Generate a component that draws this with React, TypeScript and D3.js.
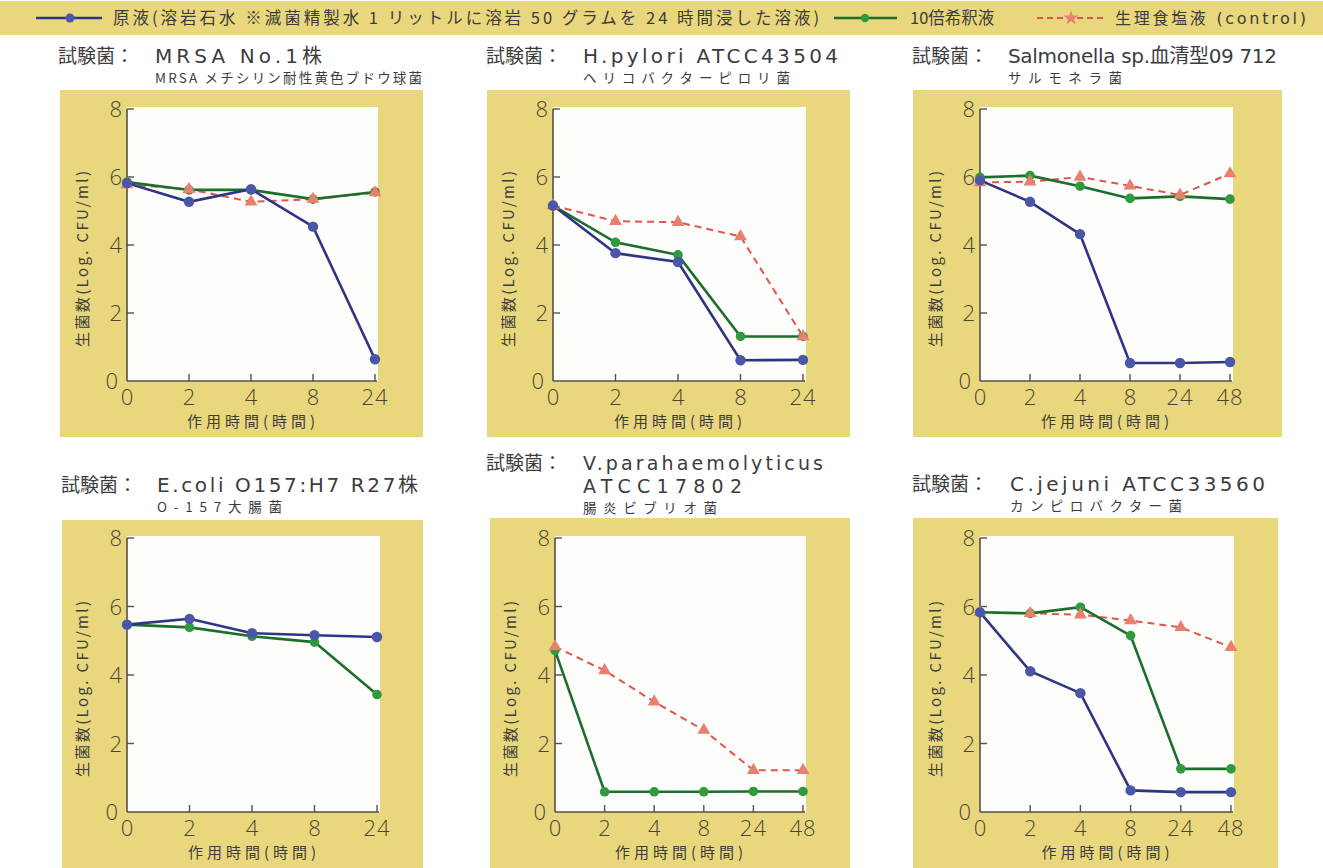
import React from "react";
import * as d3 from "d3";

// ---------- data ----------
const timesA = ["0", "2", "4", "8", "24"];
const timesB = ["0", "2", "4", "8", "24", "48"];

const legendStock = "原液(溶岩石水 ※滅菌精製水 1 リットルに溶岩 50 グラムを 24 時間浸した溶液)";
const legendDiluted = "10倍希釈液";
const legendControl = "生理食塩液 (control)";

const yTicks = [0, 2, 4, 6, 8];
const yLabel = "生菌数(Log. CFU/ml)";
const xLabel = "作用時間(時間)";
const titlePrefix = "試験菌：";

// MRSA
const mrsaStock = [5.82, 5.27, 5.64, 4.54, 0.64];
const mrsaDiluted = [5.85, 5.62, 5.62, 5.35, 5.56];
const mrsaControl = [5.78, 5.64, 5.27, 5.35, 5.54];
// H.pylori
const pyloriStock = [5.16, 3.76, 3.5, 0.61, 0.62];
const pyloriDiluted = [5.16, 4.08, 3.71, 1.31, 1.31];
const pyloriControl = [5.16, 4.7, 4.67, 4.25, 1.31];
// Salmonella
const salmStock = [5.9, 5.27, 4.32, 0.53, 0.53, 0.56];
const salmDiluted = [5.99, 6.04, 5.73, 5.37, 5.43, 5.35];
const salmControl = [5.84, 5.86, 6.0, 5.74, 5.47, 6.1];
// E.coli
const ecoliStock = [5.47, 5.64, 5.22, 5.16, 5.11];
const ecoliDiluted = [5.47, 5.39, 5.13, 4.96, 3.43];
// V.parahaemolyticus
const vibrioDiluted = [4.72, 0.59, 0.59, 0.59, 0.6, 0.6];
const vibrioControl = [4.83, 4.13, 3.22, 2.39, 1.22, 1.22];
// C.jejuni
const jejuniStock = [5.83, 4.11, 3.47, 0.63, 0.58, 0.58];
const jejuniDiluted = [5.83, 5.8, 5.98, 5.15, 1.26, 1.26];
const jejuniControl = [5.83, 5.8, 5.76, 5.59, 5.39, 4.81];

// ---------- styles ----------
const YELLOW = "#e9d77d";
const BLUE_LINE = "#2f3585";
const BLUE_DOT = "#4a56a8";
const GREEN_LINE = "#1c6e2c";
const GREEN_DOT = "#2f9a3e";
const RED_LINE = "#e2544c";
const RED_MARK = "#e88070";
const AXIS = "#555048";
const TICKTXT = "#4a4633";
const TEXT = "#3c3c3c";
const CJK = "'Noto Sans CJK JP', 'Noto Sans', sans-serif";
const LATIN = "'DejaVu Sans', 'Noto Sans CJK JP', sans-serif";
const NUM = "'Open Sans', 'DejaVu Sans', sans-serif";

type Panel = {
  names: string[];
  nameW: number[];
  sub: string;
  subW: number;
  times: string[];
  stock?: number[];
  diluted?: number[];
  control?: number[];
  box: [number, number, number, number];
  plot: [number, number, number, number];
  titleX: number;
  titleY: number;
  subX: number;
};

const panels: Panel[] = [
  { names: ["MRSA No.1株"], nameW: [167], sub: "MRSA メチシリン耐性黄色ブドウ球菌", subW: 267, times: timesA,
    stock: mrsaStock, diluted: mrsaDiluted, control: mrsaControl,
    box: [60, 90, 423, 437], plot: [127, 109, 375, 381], titleX: 58, titleY: 63, subX: 155 },
  { names: ["H.pylori ATCC43504"], nameW: [255], sub: "ヘリコバクターピロリ菌", subW: 207, times: timesA,
    stock: pyloriStock, diluted: pyloriDiluted, control: pyloriControl,
    box: [487, 90, 850, 437], plot: [553, 109, 803, 381], titleX: 486, titleY: 63, subX: 583 },
  { names: ["Salmonella sp.血清型09 712"], nameW: [269], sub: "サルモネラ菌", subW: 114, times: timesB,
    stock: salmStock, diluted: salmDiluted, control: salmControl,
    box: [913, 90, 1282, 437], plot: [980, 109, 1230, 381], titleX: 912, titleY: 63, subX: 1008 },
  { names: ["E.coli O157:H7 R27株"], nameW: [261], sub: "O-157大腸菌", subW: 125, times: timesA,
    stock: ecoliStock, diluted: ecoliDiluted,
    box: [62, 520, 423, 868], plot: [127, 538, 377, 812], titleX: 61, titleY: 492, subX: 157 },
  { names: ["V.parahaemolyticus", "ATCC17802"], nameW: [240, 159], sub: "腸炎ビブリオ菌", subW: 134, times: timesB,
    diluted: vibrioDiluted, control: vibrioControl,
    box: [490, 518, 850, 868], plot: [555, 538, 803, 812], titleX: 486, titleY: 470, subX: 583 },
  { names: ["C.jejuni ATCC33560"], nameW: [255], sub: "カンピロバクター菌", subW: 172, times: timesB,
    stock: jejuniStock, diluted: jejuniDiluted, control: jejuniControl,
    box: [913, 518, 1278, 868], plot: [980, 538, 1231, 812], titleX: 912, titleY: 491, subX: 1010 },
];

function ChartPanel({ p }: { p: Panel }) {
  const [px0, py0, px1, py1] = p.plot;
  const [bx0, by0, bx1, by1] = p.box;
  const x = d3.scalePoint<string>().domain(p.times).range([px0, px1]).padding(0);
  const y = d3.scaleLinear().domain([0, 8]).range([py1, py0]);
  const line = (vals: number[]) =>
    d3.line<number>().x((_, i) => x(p.times[i]) as number).y((d) => y(d))(vals) || "";
  const tri = d3.symbol().type(d3.symbolTriangle).size(72)() || "";
  const cx = (px0 + px1) / 2;
  const cy = (py0 + py1) / 2;
  const subY = p.titleY + (p.names.length - 1) * 23 + 20;
  return (
    <g>
      <text x={p.titleX} y={p.titleY} fontFamily={CJK} fontSize={19} fill={TEXT}>{titlePrefix}</text>
      {p.names.map((t, i) => (
        <text key={i} x={p.subX} y={p.titleY + i * 23} fontFamily={LATIN} fontSize={p.names.length > 1 ? 19 : 20}
          fill={TEXT} textLength={p.nameW[i]} lengthAdjust="spacing">{t}</text>
      ))}
      <text x={p.subX} y={subY} fontFamily={CJK} fontSize={13.5} fill={TEXT}
        textLength={p.subW} lengthAdjust="spacing">{p.sub}</text>
      <rect x={bx0} y={by0} width={bx1 - bx0} height={by1 - by0} fill={YELLOW} />
      <rect x={px0} y={py0 - 2} width={px1 - px0 + 3} height={py1 - py0 + 2} fill="#fdfdfb" />
      {/* axes */}
      <line x1={px0} x2={px0} y1={y(8)} y2={y(0)} stroke={AXIS} strokeWidth={1.6} />
      <line x1={px0} x2={px1 + 2} y1={y(0)} y2={y(0)} stroke={AXIS} strokeWidth={1.6} />
      {yTicks.filter((t) => t > 0).map((t) => (
        <line key={t} x1={px0} x2={px0 + 7} y1={y(t)} y2={y(t)} stroke={AXIS} strokeWidth={1.4} />
      ))}
      {p.times.slice(1).map((t) => (
        <line key={t} x1={x(t)} x2={x(t)} y1={y(0)} y2={y(0) - 7} stroke={AXIS} strokeWidth={1.4} />
      ))}
      {yTicks.map((t) => (
        <text key={t} x={px0 - (t === 0 ? 9 : 5)} y={y(t) + 8} textAnchor="end"
          fontFamily={NUM} fontWeight={300} fontSize={22} fill={TICKTXT}>{t}</text>
      ))}
      {p.times.map((t) => (
        <text key={t} x={x(t)} y={py1 + 24} textAnchor="middle"
          fontFamily={NUM} fontWeight={300} fontSize={22} fill={TICKTXT}
          letterSpacing={t.length > 1 ? 1 : 0}>{t}</text>
      ))}
      <text x={cx} y={py1 + 46} textAnchor="middle" fontFamily={CJK} fontSize={15} fill={TEXT}
        textLength={128} lengthAdjust="spacing">{xLabel}</text>
      <text transform={`translate(${px0 - 39},${cy + 14}) rotate(-90)`} textAnchor="middle"
        fontFamily={CJK} fontSize={15} fill={TEXT}
        textLength={176} lengthAdjust="spacing">{yLabel}</text>
      {/* lines */}
      {p.control && (
        <path d={line(p.control)} fill="none" stroke={RED_LINE} strokeWidth={2} strokeDasharray="7,5" />
      )}
      {p.diluted && <path d={line(p.diluted)} fill="none" stroke={GREEN_LINE} strokeWidth={2.6} />}
      {p.stock && <path d={line(p.stock)} fill="none" stroke={BLUE_LINE} strokeWidth={2.6} />}
      {/* markers */}
      {p.diluted && p.diluted.map((v, i) => (
        <circle key={"g" + i} cx={x(p.times[i])} cy={y(v)} r={4.8} fill={GREEN_DOT} />
      ))}
      {p.control && p.control.map((v, i) => (
        <path key={"r" + i} d={tri} transform={`translate(${x(p.times[i])},${y(v)})`} fill={RED_MARK} />
      ))}
      {p.stock && p.stock.map((v, i) => (
        <circle key={"b" + i} cx={x(p.times[i])} cy={y(v)} r={5.2} fill={BLUE_DOT} />
      ))}
    </g>
  );
}

function Legend() {
  const yc = 18;
  const star = d3.symbol().type(d3.symbolStar).size(70)() || "";
  return (
    <g>
      <rect x={0} y={1} width={1323} height={34} fill={YELLOW} />
      <line x1={36} x2={102} y1={yc} y2={yc} stroke={BLUE_LINE} strokeWidth={2.6} />
      <circle cx={70} cy={yc} r={4.5} fill={BLUE_DOT} />
      <text x={113} y={yc + 6} fontFamily={CJK} fontSize={16.5} fill={TEXT}
        textLength={706} lengthAdjust="spacing">{legendStock}</text>
      <line x1={834} x2={897} y1={yc} y2={yc} stroke={GREEN_LINE} strokeWidth={2.6} />
      <circle cx={865} cy={yc} r={4.2} fill={GREEN_DOT} />
      <text x={910} y={yc + 6} fontFamily={CJK} fontSize={16.5} fill={TEXT}>{legendDiluted}</text>
      <line x1={1037} x2={1103} y1={yc} y2={yc} stroke={RED_LINE} strokeWidth={2} strokeDasharray="6,4" />
      <path d={star} transform={`translate(1071,${yc})`} fill={RED_MARK} />
      <text x={1115} y={yc + 6} fontFamily={LATIN} fontSize={16} fill={TEXT}
        textLength={191} lengthAdjust="spacing">{legendControl}</text>
    </g>
  );
}

export default function App() {
  return (
    <svg width={1323} height={868} style={{ position: "absolute", left: 0, top: 0, background: "#ffffff" }}>
      <rect x={0} y={0} width={1323} height={868} fill="#ffffff" />
      <Legend />
      {panels.map((p, i) => <ChartPanel key={i} p={p} />)}
    </svg>
  );
}
